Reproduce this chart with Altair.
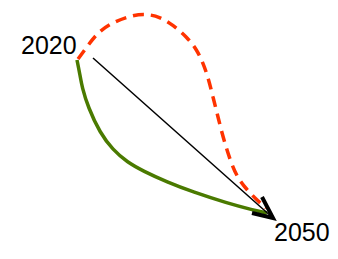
import altair as alt
import pandas as pd

# Curves (abstract plane units: x to the right, y downward)
green_x = [77, 80, 82, 88, 100, 113, 127, 143, 167, 193, 227, 253, 267]
green_y = [60, 75, 87, 107, 133, 150, 162, 171, 182, 192, 203, 210, 213]

red_x = [78, 87, 97, 113, 133, 147, 160, 173, 187, 197, 203, 208, 213, 218, 223, 230, 237, 247, 257, 266]
red_y = [59, 47, 33, 22, 15, 14, 17, 25, 37, 50, 63, 77, 97, 117, 137, 160, 177, 190, 200, 208]

arrow_x = [93, 273]
arrow_y = [58, 218]
head_x = [262, 273, 252]
head_y = [197, 218, 213]

label_text = ["2020", "2050"]
label_x = [21, 274]
label_y = [54, 241]

X_DOMAIN = [8, 330]
Y_DOMAIN = [8, 247]

xs = alt.Scale(domain=X_DOMAIN, nice=False, zero=False)
ys = alt.Scale(domain=Y_DOMAIN, nice=False, zero=False, reverse=True)

def path_df(xv, yv):
    return pd.DataFrame({"x": xv, "y": yv, "i": list(range(len(xv)))})

def enc(ch):
    return ch.encode(
        x=alt.X("x:Q", scale=xs, axis=None),
        y=alt.Y("y:Q", scale=ys, axis=None),
        order="i:Q",
    )

green = enc(alt.Chart(path_df(green_x, green_y)).mark_line(
    color="#4a7a00", strokeWidth=3.5, interpolate="basis", strokeCap="butt"))
red = enc(alt.Chart(path_df(red_x, red_y)).mark_line(
    color="#ff3300", strokeWidth=3.5, strokeDash=[11, 7], interpolate="basis"))
arrow = enc(alt.Chart(path_df(arrow_x, arrow_y)).mark_line(
    color="black", strokeWidth=1.5))
head = enc(alt.Chart(path_df(head_x, head_y)).mark_line(
    color="black", strokeWidth=4, strokeJoin="miter", strokeCap="butt"))

labels = alt.Chart(pd.DataFrame({"t": label_text, "x": label_x, "y": label_y})).mark_text(
    align="left", baseline="alphabetic", font="Liberation Sans", fontSize=25, color="black"
).encode(
    x=alt.X("x:Q", scale=xs, axis=None),
    y=alt.Y("y:Q", scale=ys, axis=None),
    text="t:N",
)

chart = alt.layer(green, red, arrow, head, labels).properties(
    width=322, height=239, padding=0,
    autosize=alt.AutoSizeParams(type="none"),
).configure_view(stroke=None)

chart.save("out.html", embed_options={"renderer": "svg", "actions": False})
